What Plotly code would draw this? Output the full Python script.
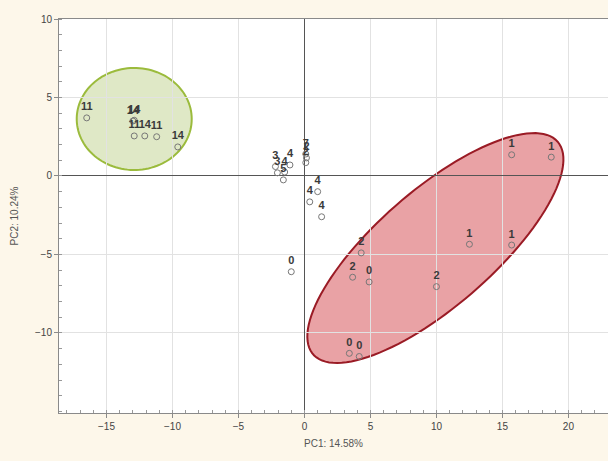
import numpy as np
import plotly.graph_objects as go

# ---- data ----
pc1 = [-16.5, -13.0, -12.9, -12.9, -12.1, -11.2, -9.6,
       -2.2, -1.1, -2.05, -1.5, -1.6, 0.1, 0.15, 0.1, 1.0, 0.4, 1.3,
       15.7, 18.7, 12.5, 15.7, 10.0, 4.3, -1.0, 3.65, 4.9, 3.4, 4.15]
pc2 = [3.7, 3.5, 3.55, 2.55, 2.55, 2.5, 1.85,
       0.6, 0.7, 0.2, 0.25, -0.25, 1.4, 1.15, 0.85, -1.0, -1.65, -2.6,
       1.35, 1.2, -4.35, -4.4, -7.05, -4.9, -6.1, -6.45, -6.75, -11.3, -11.5]
labels = ["11", "14", "14", "11", "14", "11", "14",
          "3", "4", "3", "4", "5", "7", "2", "2", "4", "4", "4",
          "1", "1", "1", "1", "2", "2", "0", "2", "0", "0", "0"]

x_ticks = [-15, -10, -5, 0, 5, 10, 15, 20]
y_ticks = [-10, -5, 0, 5, 10]
x_title = "PC1: 14.58%"
y_title = "PC2: 10.24%"

# ---- layout geometry ----
W, H = 608, 461
ML, MR, MT, MB = 59, 0, 19, 48
XR = [-18.6, 23.0]
YR = [-15.1, 10.0]
pxx = (W - ML - MR) / (XR[1] - XR[0])
pxy = (H - MT - MB) / (YR[1] - YR[0])


def ellipse_path(cx, cy, a_px, b_px, ang_deg, n=120):
    t = np.linspace(0, 2 * np.pi, n)
    th = np.deg2rad(ang_deg)
    dx = a_px * np.cos(t) * np.cos(th) - b_px * np.sin(t) * np.sin(th)
    dy = a_px * np.cos(t) * np.sin(th) + b_px * np.sin(t) * np.cos(th)
    xs = cx + dx / pxx
    ys = cy + dy / pxy
    p = f"M {xs[0]:.4f},{ys[0]:.4f} " + " ".join(
        f"L {x:.4f},{y:.4f}" for x, y in zip(xs[1:], ys[1:])) + " Z"
    return p


fig = go.Figure()
fig.add_trace(go.Scatter(
    x=pc1, y=pc2, mode="markers+text", text=labels,
    textposition="top center",
    textfont=dict(family="Liberation Sans, Arial", size=11, color="#3a3a3a",
                  weight="bold"),
    marker=dict(symbol="circle-open", size=6, color="#777777",
                line=dict(width=1, color="#777777")),
    cliponaxis=False, showlegend=False,
))

fig.add_shape(type="path", xref="x", yref="y", layer="below",
              path=ellipse_path(-12.9, 3.63, 57.5, 51, 0),
              fillcolor="#dfe8c6", line=dict(color="#9bbb3c", width=2))
fig.add_shape(type="path", xref="x", yref="y", layer="below",
              path=ellipse_path(9.92, -4.59, 162, 58, 41),
              fillcolor="#e9a2a5", line=dict(color="#9a1b25", width=2))

axis_common = dict(
    showgrid=True, gridcolor="#e2e2e2", gridwidth=1,
    zeroline=True, zerolinecolor="#555555", zerolinewidth=1.2,
    showline=True, linecolor="#8a8a8a", linewidth=1,
    ticks="outside", ticklen=4, tickcolor="#8a8a8a",
    tickfont=dict(family="Liberation Sans, Arial", size=10, color="#444444"),
    minor=dict(dtick=1, ticks="inside", ticklen=3, tickcolor="#999999", showgrid=False),
)

fig.update_xaxes(range=XR, tickvals=x_ticks, mirror=True,
                 title=dict(text=x_title, standoff=8,
                            font=dict(family="Liberation Sans, Arial", size=10, color="#555555")),
                 **axis_common)
fig.update_yaxes(range=YR, tickvals=y_ticks,
                 title=dict(text=y_title, standoff=14,
                            font=dict(family="Liberation Sans, Arial", size=10, color="#555555")),
                 **axis_common)

fig.update_layout(
    width=W, height=H,
    margin=dict(l=ML, r=MR, t=MT, b=MB),
    paper_bgcolor="#fdf7ea", plot_bgcolor="#ffffff",
)

fig.write_html("out.html", config={"displayModeBar": False},
               post_script="document.body.style.margin='0px';document.body.style.background='#fdf7ea';")
